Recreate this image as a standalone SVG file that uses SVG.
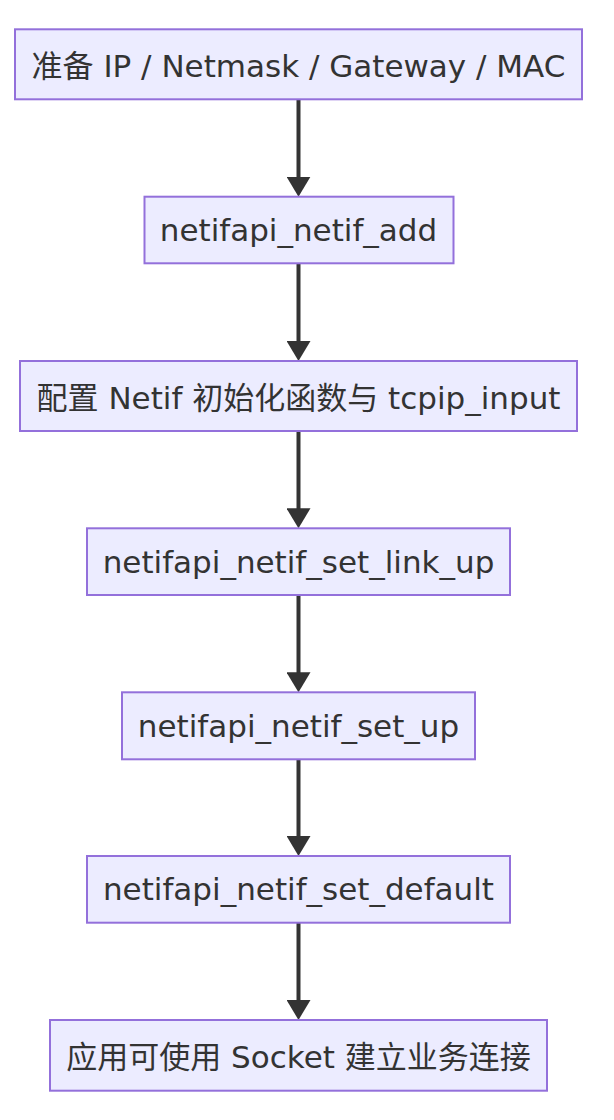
<svg xmlns="http://www.w3.org/2000/svg" width="614" height="1120" viewBox="0 0 614 1120">
<style>
.node rect{fill:#ECECFF;stroke:#9370DB;stroke-width:2}
.node text{font-family:"DejaVu Sans","Noto Sans CJK SC",sans-serif;font-size:31px;fill:#333;text-anchor:middle}
.edge{stroke:#333;stroke-width:4;fill:none;marker-end:url(#arrow)}
</style>
<defs>
<marker id="arrow" markerUnits="userSpaceOnUse" markerWidth="20" markerHeight="24" refX="10" refY="12" orient="auto">
<path d="M0,0 L20,12 L0,24 z" fill="#333"/>
</marker>
</defs>
<rect width="614" height="1120" fill="#fff"/>
<g id="connectors">
<path class="edge" d="M298.5,99.3 V186.7"/>
<path class="edge" d="M298.5,263.3 V351"/>
<path class="edge" d="M298.5,431 V518.3"/>
<path class="edge" d="M298.5,595 V682.3"/>
<path class="edge" d="M298.5,759.3 V846"/>
<path class="edge" d="M298.5,922.7 V1010"/>
</g>
<g id="n1" class="node"><rect x="15" y="29.3" width="567" height="70"/><text x="298.5" y="77.3">准备 IP / Netmask / Gateway / MAC</text></g>
<g id="n2" class="node"><rect x="144.5" y="196.7" width="309" height="66.6"/><text x="298.5" y="241">netifapi_netif_add</text></g>
<g id="n3" class="node"><rect x="20" y="361" width="557" height="70"/><text x="298.5" y="409">配置 Netif 初始化函数与 tcpip_input</text></g>
<g id="n4" class="node"><rect x="87" y="528.3" width="423" height="66.7"/><text x="298.5" y="572.6">netifapi_netif_set_link_up</text></g>
<g id="n5" class="node"><rect x="122" y="692.3" width="353" height="67"/><text x="298.5" y="736.6">netifapi_netif_set_up</text></g>
<g id="n6" class="node"><rect x="87" y="856" width="423" height="66.7"/><text x="298.5" y="900.3">netifapi_netif_set_default</text></g>
<g id="n7" class="node"><rect x="50" y="1020" width="497" height="70.7"/><text x="298.5" y="1068">应用可使用 Socket 建立业务连接</text></g>
</svg>
